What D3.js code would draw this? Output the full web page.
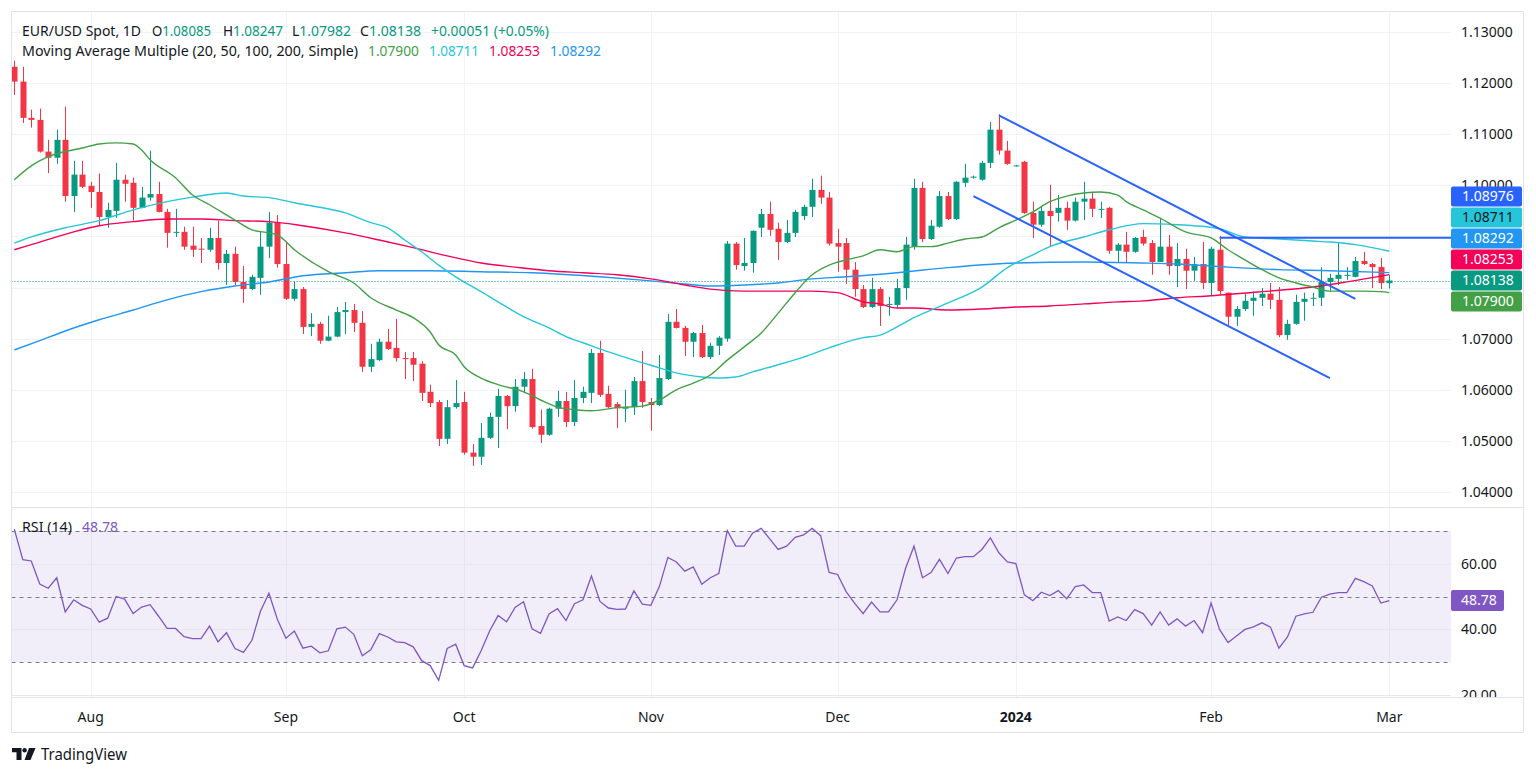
<!DOCTYPE html>
<html><head><meta charset="utf-8">
<script src="https://cdn.jsdelivr.net/npm/d3@7"></script>
<style>
html,body{margin:0;padding:0;background:#fff;}
svg{display:block;font-family:"Noto Sans","Open Sans",sans-serif;}
</style></head><body>
<svg id="c" width="1536" height="776"></svg>
<script>
// ---------------- DATA ----------------
const symbol = "EUR/USD Spot, 1D";
const startDate = "2023-07-19", endDate = "2024-03-01";   // daily FX bars, Mon-Fri
const opens = [1.1232,1.1203,1.1132,1.1128,1.1066,1.1054,1.1089,1.0979,1.1021,1.0999,
1.0987,1.0938,1.0950,1.1011,1.1005,1.0956,1.0976,1.0983,1.0948,1.0907,
1.0909,1.0882,1.0876,1.0874,1.0897,1.0848,1.0866,1.0811,1.0797,1.0819,
1.0880,1.0927,1.0846,1.0778,1.0797,1.0723,1.0729,1.0696,1.0704,1.0752,
1.0756,1.0731,1.0645,1.0658,1.0694,1.0682,1.0662,1.0662,1.0651,1.0596,
1.0576,1.0504,1.0566,1.0576,1.0477,1.0469,1.0506,1.0547,1.0588,1.0568,
1.0606,1.0621,1.0529,1.0512,1.0563,1.0578,1.0537,1.0584,1.0594,1.0672,
1.0592,1.0572,1.0563,1.0566,1.0617,1.0576,1.0570,1.0621,1.0733,1.0721,
1.0694,1.0711,1.0664,1.0686,1.0700,1.0886,1.0842,1.0848,1.0917,1.0944,
1.0915,1.0889,1.0907,1.0940,1.0958,1.0991,1.0976,1.0887,1.0887,1.0835,
1.0797,1.0762,1.0797,1.0766,1.0766,1.0799,1.0880,1.0995,1.0895,1.0919,
1.0979,1.0934,1.1005,1.1015,1.1011,1.1044,1.1109,1.1068,1.1038,1.1046,
1.0946,1.0923,1.0950,1.0946,1.0956,1.0931,1.0968,1.0974,1.0952,1.0956,
1.0872,1.0884,1.0870,1.0899,1.0887,1.0850,1.0880,1.0842,1.0856,1.0833,
1.0846,1.0809,1.0874,1.0790,1.0743,1.0758,1.0774,1.0780,1.0788,1.0776,
1.0707,1.0729,1.0772,1.0778,1.0780,1.0811,1.0817,1.0823,1.0821,1.0852,
1.0846,1.0840,1.08085];
const highs = [1.1244,1.1232,1.1148,1.1150,1.1089,1.1109,1.1154,1.1048,1.1048,1.1007,
1.1023,1.0966,1.1044,1.1021,1.1015,1.0997,1.1068,1.1007,1.0954,1.0954,
1.0919,1.0919,1.0897,1.0917,1.0931,1.0874,1.0880,1.0842,1.0825,1.0909,
1.0948,1.0942,1.0887,1.0811,1.0801,1.0750,1.0733,1.0745,1.0762,1.0772,
1.0768,1.0754,1.0690,1.0700,1.0719,1.0739,1.0674,1.0674,1.0656,1.0610,
1.0580,1.0580,1.0619,1.0596,1.0494,1.0535,1.0555,1.0602,1.0590,1.0621,
1.0635,1.0641,1.0561,1.0565,1.0598,1.0596,1.0619,1.0606,1.0680,1.0696,
1.0608,1.0576,1.0600,1.0625,1.0676,1.0584,1.0668,1.0748,1.0758,1.0725,
1.0713,1.0727,1.0692,1.0705,1.0891,1.0889,1.0897,1.0912,1.0954,1.0968,
1.0927,1.0932,1.0952,1.0962,1.1013,1.1019,1.0987,1.0915,1.0897,1.0850,
1.0805,1.0819,1.0801,1.0782,1.0817,1.0899,1.1013,1.1007,1.0932,1.0989,
1.0987,1.1008,1.1042,1.1019,1.1048,1.1124,1.1139,1.1087,1.1040,1.1048,
1.0968,1.0958,1.1001,1.0981,1.0968,1.0976,1.1007,1.0987,1.0968,1.0958,
1.0887,1.0909,1.0899,1.0913,1.0893,1.0934,1.0903,1.0887,1.0876,1.0860,
1.0889,1.0880,1.0901,1.0790,1.0764,1.0788,1.0792,1.0799,1.0809,1.0801,
1.0737,1.0786,1.0790,1.0790,1.0840,1.0827,1.0889,1.0840,1.0860,1.0870,
1.0848,1.0858,1.08247];
const lows = [1.1177,1.1122,1.1113,1.1064,1.1024,1.1042,1.0968,1.0948,1.0995,1.0956,
1.0921,1.0917,1.0936,1.0968,1.0931,1.0955,1.0970,1.0947,1.0878,1.0899,
1.0874,1.0860,1.0848,1.0870,1.0835,1.0805,1.0805,1.0770,1.0795,1.0786,
1.0858,1.0839,1.0776,1.0774,1.0709,1.0705,1.0690,1.0695,1.0703,1.0709,
1.0713,1.0635,1.0635,1.0656,1.0678,1.0655,1.0621,1.0617,1.0578,1.0566,
1.0490,1.0494,1.0563,1.0473,1.0451,1.0453,1.0504,1.0486,1.0523,1.0557,
1.0594,1.0524,1.0496,1.0510,1.0547,1.0527,1.0529,1.0574,1.0574,1.0586,
1.0564,1.0525,1.0537,1.0551,1.0565,1.0520,1.0568,1.0619,1.0720,1.0666,
1.0664,1.0662,1.0660,1.0668,1.0694,1.0835,1.0833,1.0829,1.0899,1.0901,
1.0854,1.0887,1.0899,1.0932,1.0938,1.0964,1.0882,1.0831,1.0807,1.0782,
1.0760,1.0760,1.0725,1.0745,1.0760,1.0776,1.0874,1.0889,1.0893,1.0917,
1.0932,1.0932,1.0997,1.1013,1.1009,1.1034,1.1060,1.1040,1.1037,1.0944,
1.0897,1.0919,1.0880,1.0929,1.0913,1.0929,1.0932,1.0938,1.0936,1.0866,
1.0848,1.0848,1.0868,1.0882,1.0825,1.0850,1.0825,1.0801,1.0797,1.0813,
1.0797,1.0784,1.0786,1.0725,1.0725,1.0754,1.0745,1.0764,1.0758,1.0703,
1.0698,1.0727,1.0735,1.0764,1.0764,1.0792,1.0805,1.0815,1.0820,1.0844,
1.0799,1.0797,1.07982];
const closes = [1.1203,1.1132,1.1128,1.1066,1.1054,1.1089,1.0979,1.1021,1.0997,1.0987,
1.0938,1.0952,1.1011,1.1003,1.0956,1.0976,1.0983,1.0948,1.0907,1.0909,
1.0880,1.0874,1.0874,1.0897,1.0848,1.0866,1.0811,1.0797,1.0821,1.0880,
1.0927,1.0846,1.0778,1.0797,1.0723,1.0729,1.0696,1.0704,1.0752,1.0756,
1.0731,1.0645,1.0660,1.0694,1.0680,1.0662,1.0660,1.0649,1.0594,1.0574,
1.0504,1.0566,1.0574,1.0477,1.0469,1.0506,1.0547,1.0588,1.0568,1.0606,
1.0621,1.0527,1.0512,1.0563,1.0578,1.0537,1.0584,1.0596,1.0672,1.0590,
1.0566,1.0564,1.0566,1.0617,1.0576,1.0570,1.0623,1.0733,1.0721,1.0694,
1.0711,1.0664,1.0686,1.0702,1.0886,1.0844,1.0848,1.0911,1.0944,1.0913,
1.0889,1.0907,1.0948,1.0958,1.0991,1.0976,1.0886,1.0880,1.0835,1.0797,
1.0762,1.0797,1.0764,1.0768,1.0799,1.0884,1.0995,1.0895,1.0921,1.0979,
1.0934,1.1007,1.1015,1.1017,1.1044,1.1109,1.1068,1.1042,1.1039,1.0946,
1.0923,1.0950,1.0940,1.0956,1.0931,1.0968,1.0974,1.0954,1.0954,1.0872,
1.0884,1.0870,1.0897,1.0886,1.0850,1.0880,1.0842,1.0856,1.0833,1.0846,
1.0809,1.0876,1.0793,1.0743,1.0758,1.0774,1.0780,1.0788,1.0776,1.0707,
1.0729,1.0772,1.0778,1.0780,1.0811,1.0819,1.0825,1.0825,1.0852,1.0846,
1.0840,1.08087,1.08138];

const rsi = [70.5,61.2,60.8,53.8,52.5,55.7,45.3,49,47.3,46.2,
42.2,43.4,50,49.2,44.8,46.8,47.5,44,40.3,40.3,
37.8,37.2,37.2,41,36.2,39,34.2,33,36.7,45.5,
51,43,37.3,39.5,34.3,34.9,32.9,33.5,40.2,40.7,
38.5,32,33.8,38.7,37.7,36.2,36,34.7,30.5,29,
24.5,34.2,35.5,29,28.3,33.5,39.5,44.2,42.3,46.7,
48.4,40.2,38.8,44.7,46.3,42.7,47.8,49,56.2,48.5,
46.5,46.1,46.2,51.7,47.7,47.3,53,61.9,60.5,57.7,
59,53.7,55.7,57,70,65.3,65.3,69.3,70.7,67.5,
64.3,65.3,68,68.7,70.7,68.5,57.3,56.7,51.5,48,
44.8,48.3,45.3,45.3,49,58.5,65.3,55.7,57.3,61.3,
57,61.7,62.1,62.1,64.3,67.8,63.3,60.5,60,50.5,
48.7,51.3,50.3,51.8,49.3,53,53.5,51.2,51.2,42.5,
43.8,42.7,46,44.8,41.3,45.3,41.3,43.2,41,42.7,
39,48,40,36,38,40,40.8,42,40.7,34.3,
37.7,44,44.7,45.2,49.8,50.7,51.2,51.2,55.5,54.5,
53.2,48,48.78];

// moving averages read at bar indices: [barIndex, value]
const ma20 = [[0,1.1011],[2,1.1038],[4,1.1056],[8,1.1073],[10,1.1081],[12,1.1083],[14,1.1081],[15,1.1069],[16,1.1050],[19,1.1015],
[21,1.0981],[23,1.0962],[26,1.0932],[28,1.0913],[30,1.0907],[31,1.0903],[33,1.0874],[37,1.0831],[40,1.0809],[42,1.0780],
[45,1.0756],[47,1.0741],[49,1.0713],[50,1.0688],[52,1.0668],[53,1.0645],[55,1.0623],[57,1.0610],[60,1.0596],[62,1.0580],
[64,1.0566],[66,1.0561],[68,1.0559],[71,1.0565],[74,1.0568],[76,1.0580],[78,1.0600],[80,1.0613],[82,1.0629],[84,1.0658],
[86,1.0684],[88,1.0711],[90,1.0750],[92,1.0790],[94,1.0825],[96,1.0844],[98,1.0854],[100,1.0862],[102,1.0874],[104,1.0870],
[106,1.0880],[108,1.0880],[110,1.0887],[112,1.0895],[114,1.0899],[116,1.0917],[118,1.0932],[120,1.0948],[122,1.0968],[124,1.0979],
[126,1.0985],[128,1.0987],[130,1.0981],[131,1.0968],[133,1.0952],[135,1.0936],[137,1.0917],[138,1.0909],[141,1.0897],[143,1.0874],
[145,1.0854],[147,1.0835],[149,1.0819],[151,1.0809],[153,1.0801],[155,1.0793],[157,1.0793],[159,1.0793],[161,1.0792],[162,1.07900]];
const ma50 = [[0,1.0887],[2,1.0899],[6,1.0917],[10,1.0931],[14,1.0952],[18,1.0968],[21,1.0977],[25,1.0985],[27,1.0979],[30,1.0976],
[33,1.0966],[35,1.0960],[39,1.0946],[42,1.0927],[44,1.0917],[46,1.0893],[48,1.0870],[50,1.0844],[52,1.0821],[55,1.0792],
[58,1.0762],[60,1.0743],[63,1.0721],[65,1.0704],[67,1.0692],[70,1.0674],[73,1.0658],[76,1.0643],[78,1.0633],[81,1.0625],
[83,1.0623],[85,1.0625],[87,1.0635],[90,1.0649],[93,1.0664],[96,1.0682],[100,1.0702],[102,1.0707],[104,1.0723],[106,1.0741],
[110,1.0770],[114,1.0801],[117,1.0839],[120,1.0864],[122,1.0880],[126,1.0899],[129,1.0913],[133,1.0925],[137,1.0923],[139,1.0921],
[142,1.0915],[145,1.0899],[149,1.0895],[153,1.0891],[155,1.0889],[158,1.0884],[162,1.08711]];
const ma100 = [[0,1.0874],[3,1.0889],[7,1.0909],[10,1.0921],[14,1.0929],[18,1.0934],[22,1.0934],[26,1.0931],[30,1.0929],[34,1.0921],
[39,1.0907],[43,1.0893],[47,1.0878],[51,1.0862],[55,1.0848],[59,1.0840],[63,1.0833],[67,1.0829],[71,1.0825],[75,1.0817],
[79,1.0805],[82,1.0797],[86,1.0793],[90,1.0793],[94,1.0793],[97,1.0790],[100,1.0772],[102,1.0768],[104,1.0760],[106,1.0760],
[110,1.0756],[114,1.0758],[118,1.0762],[122,1.0764],[126,1.0768],[130,1.0772],[133,1.0774],[137,1.0780],[141,1.0784],[147,1.0792],
[153,1.0801],[157,1.0811],[162,1.08253]];
const ma200 = [[0,1.0678],[3,1.0696],[6,1.0715],[10,1.0737],[14,1.0756],[18,1.0776],[22,1.0792],[26,1.0803],[30,1.0811],[34,1.0823],
[39,1.0829],[43,1.0833],[49,1.0833],[55,1.0831],[61,1.0829],[69,1.0821],[75,1.0813],[79,1.0807],[82,1.0803],[86,1.0805],
[90,1.0809],[94,1.0817],[98,1.0821],[104,1.0829],[110,1.0839],[118,1.0848],[126,1.0850],[133,1.0848],[137,1.0846],[143,1.0840],
[149,1.0835],[155,1.0833],[162,1.08292]];

const maNames = ["MA20","MA50","MA100","MA200"];
const maColors = ["#43a047","#26c6da","#f50057","#2196f3"];

// drawings: trend channel and horizontal ray [barIndex, price]
const channelUpper = [[116,1.1137],[158,1.0778]];
const channelLower = [[113,1.0979],[155,1.0623]];
const hRay = [142,1.08976];

const monthTicks = [["2023-08-01","Aug"],["2023-09-01","Sep"],["2023-10-02","Oct"],["2023-11-01","Nov"],
["2023-12-01","Dec"],["2024-01-01","2024"],["2024-02-01","Feb"],["2024-03-01","Mar"]];
const priceTicks = [1.13,1.12,1.11,1.10,1.09,1.08,1.07,1.06,1.05,1.04];
const rsiTicks = [60,40,20];
const rsiLevels = [70,50,30];

// ---------------- LAYOUT ----------------
const svg = d3.select("#c");
const frameL = 11.5, frameR = 1523.5, frameT = 11.5, frameB = 732.5;
const plotR = 1451;
const priceB = 507.5, rsiT = 507.5, rsiB = 697.5;
const fmt5 = d3.format(".5f"), fmt2 = d3.format(".2f");
const C_UP = "#089981", C_DN = "#f23645", TXT = "#131722", GRID = "#f0f3fa", BORDER = "#e0e3eb";

const dates = [];
for (let d = new Date(startDate + "T00:00:00Z"); d <= new Date(endDate + "T00:00:00Z"); d.setUTCDate(d.getUTCDate() + 1)) {
  const w = d.getUTCDay(); if (w !== 0 && w !== 6) dates.push(d.toISOString().slice(0, 10));
}
const x = d3.scalePoint().domain(dates).range([14.3, 1389.3]);
const y = d3.scaleLinear().domain([1.04, 1.13]).range([492, 32]);
const yr = d3.scaleLinear().domain([30, 70]).range([662.3, 530.7]);

const defs = svg.append("defs");
defs.append("clipPath").attr("id","cp").append("rect").attr("x",frameL).attr("y",frameT).attr("width",plotR-frameL).attr("height",priceB-frameT);
defs.append("clipPath").attr("id","cr").append("rect").attr("x",frameL).attr("y",rsiT).attr("width",plotR-frameL).attr("height",rsiB-rsiT);
defs.append("clipPath").attr("id","cra").append("rect").attr("x",plotR).attr("y",rsiT+1).attr("width",frameR-plotR).attr("height",rsiB-rsiT-1.5);

// grids
const gp = svg.append("g").attr("clip-path","url(#cp)");
const gr = svg.append("g").attr("clip-path","url(#cr)");
gp.selectAll("line.hg").data(priceTicks).join("line").attr("x1",frameL).attr("x2",plotR)
  .attr("y1",d=>Math.round(y(d))+0.5).attr("y2",d=>Math.round(y(d))+0.5).attr("stroke",GRID);
[gp,gr].forEach(g=>g.selectAll("line.vg").data(monthTicks).join("line")
  .attr("x1",d=>Math.round(x(d[0]))+0.5).attr("x2",d=>Math.round(x(d[0]))+0.5)
  .attr("y1",frameT).attr("y2",rsiB).attr("stroke",GRID));

// RSI band & grid
gr.append("rect").attr("x",frameL).attr("width",plotR-frameL).attr("y",yr(70)).attr("height",yr(30)-yr(70)).attr("fill","rgba(126,87,194,0.1)");
gr.selectAll("line.rg").data(rsiTicks).join("line").attr("x1",frameL).attr("x2",plotR)
  .attr("y1",d=>Math.round(yr(d))+0.5).attr("y2",d=>Math.round(yr(d))+0.5).attr("stroke","#e9e6f3");
gr.selectAll("line.rl").data(rsiLevels).join("line").attr("x1",frameL).attr("x2",plotR)
  .attr("y1",d=>Math.round(yr(d))+0.5).attr("y2",d=>Math.round(yr(d))+0.5)
  .attr("stroke","#787b86").attr("stroke-dasharray","4,4");

// candles
const bars = dates.map((d,i)=>({d,o:opens[i],h:highs[i],l:lows[i],c:closes[i]}));
const gc = gp.append("g");
gc.selectAll("line.w").data(bars).join("line")
  .attr("x1",b=>Math.round(x(b.d))+0.5).attr("x2",b=>Math.round(x(b.d))+0.5)
  .attr("y1",b=>y(b.h)).attr("y2",b=>y(b.l))
  .attr("stroke",b=>b.c>=b.o?C_UP:C_DN).attr("stroke-width",1);
gc.selectAll("rect.b").data(bars).join("rect")
  .attr("x",b=>Math.round(x(b.d))-2.5).attr("width",6)
  .attr("y",b=>y(Math.max(b.o,b.c))).attr("height",b=>Math.max(1,Math.abs(y(b.o)-y(b.c))))
  .attr("fill",b=>b.c>=b.o?C_UP:C_DN);

// current price dotted line
const last = bars[bars.length-1];
gp.append("line").attr("x1",frameL).attr("x2",plotR).attr("y1",Math.round(y(last.c))+0.5).attr("y2",Math.round(y(last.c))+0.5)
  .attr("stroke",C_UP).attr("stroke-dasharray","1,2");

// moving averages
const maLine = d3.line().x(p=>x(dates[p[0]])).y(p=>y(p[1])).curve(d3.curveMonotoneX);
[ma200,ma100,ma50,ma20].forEach((m,k)=>{
  const idx = 3-k;
  gp.append("path").attr("d",maLine(m)).attr("fill","none").attr("stroke",maColors[idx]).attr("stroke-width",1.4);
});

// trend channel & ray
const tl = d3.line().x(p=>x(dates[p[0]])).y(p=>y(p[1]));
[channelUpper,channelLower].forEach(c=>gp.append("path").attr("d",tl(c)).attr("stroke","#2962ff").attr("stroke-width",2).attr("fill","none"));
gp.append("line").attr("x1",x(dates[hRay[0]])).attr("x2",plotR).attr("y1",y(hRay[1])).attr("y2",y(hRay[1]))
  .attr("stroke","#2962ff").attr("stroke-width",2);

// RSI line
const rl = d3.line().x((v,i)=>x(dates[i])).y(v=>yr(v));
gr.append("path").attr("d",rl(rsi)).attr("fill","none").attr("stroke","#7e57c2").attr("stroke-width",1.3);

// frame & separators
svg.append("rect").attr("x",frameL).attr("y",frameT).attr("width",frameR-frameL).attr("height",frameB-frameT).attr("fill","none").attr("stroke",BORDER);
svg.append("line").attr("x1",frameL).attr("x2",frameR).attr("y1",priceB).attr("y2",priceB).attr("stroke",BORDER);
svg.append("line").attr("x1",frameL).attr("x2",frameR).attr("y1",rsiB).attr("y2",rsiB).attr("stroke",BORDER);

// price badges (stacked)
const maLast = [ma20,ma50,ma100,ma200].map(m=>m[m.length-1][1]);
let badges = [
  {v:hRay[1], bg:"#2962ff", fg:"#fff"},
  {v:maLast[1], bg:maColors[1], fg:TXT},
  {v:maLast[3], bg:maColors[3], fg:"#fff"},
  {v:maLast[2], bg:maColors[2], fg:"#fff"},
  {v:last.c, bg:C_UP, fg:"#fff", cur:true},
  {v:maLast[0], bg:maColors[0], fg:"#fff"}
].map(b=>({...b, yy:y(b.v)}));
badges.sort((a,b)=>a.yy-b.yy);
const ci = badges.findIndex(b=>b.cur), H = 21;
for (let j=ci-1;j>=0;j--) badges[j].yy = Math.min(badges[j].yy, badges[j+1].yy-H);
for (let j=ci+1;j<badges.length;j++) badges[j].yy = Math.max(badges[j].yy, badges[j-1].yy+H);

// price axis labels (those fully hidden under badges, as in the reference, are not drawn)
const visibleTicks = priceTicks.filter(t=>badges.every(b=>Math.abs(b.yy-y(t))>11));
svg.append("g").selectAll("text").data(visibleTicks).join("text")
  .attr("x",1461).attr("y",d=>y(d)).attr("dy","0.35em").attr("font-size",14).attr("fill",TXT).text(d=>fmt5(d));
// RSI axis labels
svg.append("g").attr("clip-path","url(#cra)").selectAll("text").data(rsiTicks).join("text")
  .attr("x",1461).attr("y",d=>yr(d)).attr("dy","0.35em").attr("font-size",14).attr("fill",TXT).text(d=>fmt2(d));

// time axis labels
svg.append("g").selectAll("text").data(monthTicks).join("text")
  .attr("x",d=>x(d[0])).attr("y",717).attr("dy","0.35em").attr("text-anchor","middle").attr("font-size",14)
  .attr("font-weight",d=>d[1]==="2024"?"bold":"normal").attr("fill",TXT).text(d=>d[1]);

const gb = svg.append("g");
badges.forEach(b=>{
  gb.append("rect").attr("x",1451).attr("y",b.yy-10).attr("width",71).attr("height",20).attr("rx",2).attr("fill",b.bg);
  gb.append("text").attr("x",1462).attr("y",b.yy).attr("dy","0.35em").attr("font-size",14).attr("fill",b.fg).text(fmt5(b.v));
});
// RSI badge
const rLast = rsi[rsi.length-1];
gb.append("rect").attr("x",1451).attr("y",yr(rLast)-10.5).attr("width",53).attr("height",21).attr("rx",2).attr("fill","#7e57c2");
gb.append("text").attr("x",1461).attr("y",yr(rLast)).attr("dy","0.35em").attr("font-size",14).attr("fill","#fff").text(fmt2(rLast));

// header legends
const hdr = svg.append("g").attr("font-size",13.5);
function seg(xp, yp, w, parts){
  const t = hdr.append("text").attr("x",xp).attr("y",yp).attr("textLength",w).attr("lengthAdjust","spacingAndGlyphs");
  parts.forEach(p=>t.append("tspan").attr("fill",p[1]).text(p[0]));
}
const prevC = closes[closes.length-2];
const chg = last.c - prevC;
seg(22,36,119,[[symbol,TXT]]);
seg(152,36,59,[["O",TXT],[fmt5(last.o),C_UP]]);
seg(223,36,60,[["H",TXT],[fmt5(last.h),C_UP]]);
seg(292,36,59,[["L",TXT],[fmt5(last.l),C_UP]]);
seg(360,36,61,[["C",TXT],[fmt5(last.c),C_UP]]);
seg(431,36,118,[["+"+fmt5(chg)+" (+"+d3.format(".2f")(chg/prevC*100)+"%)",C_UP]]);
seg(22,56,336,[["Moving Average Multiple (20, 50, 100, 200, Simple)",TXT]]);
seg(368,56,51,[[fmt5(maLast[0]),maColors[0]]]);
seg(429,56,50,[[fmt5(maLast[1]),maColors[1]]]);
seg(489,56,51,[[fmt5(maLast[2]),maColors[2]]]);
seg(550,56,51,[[fmt5(maLast[3]),maColors[3]]]);
seg(22,532,50,[["RSI (14)",TXT]]);
seg(82,532,36,[[fmt2(rLast),"#7e57c2"]]);

// TradingView logo
const lg = svg.append("g").attr("fill",TXT);
lg.append("path").attr("d","M12,748 H21.5 V760 H16.5 V752.3 H12 Z");
lg.append("circle").attr("cx",24.6).attr("cy",750.2).attr("r",2.2);
lg.append("path").attr("d","M29,748 H35.5 L30.5,760 H24.5 Z");
lg.append("text").attr("x",41).attr("y",759.5).attr("font-size",16).attr("textLength",86).attr("lengthAdjust","spacingAndGlyphs").text("TradingView");
</script>
</body></html>
